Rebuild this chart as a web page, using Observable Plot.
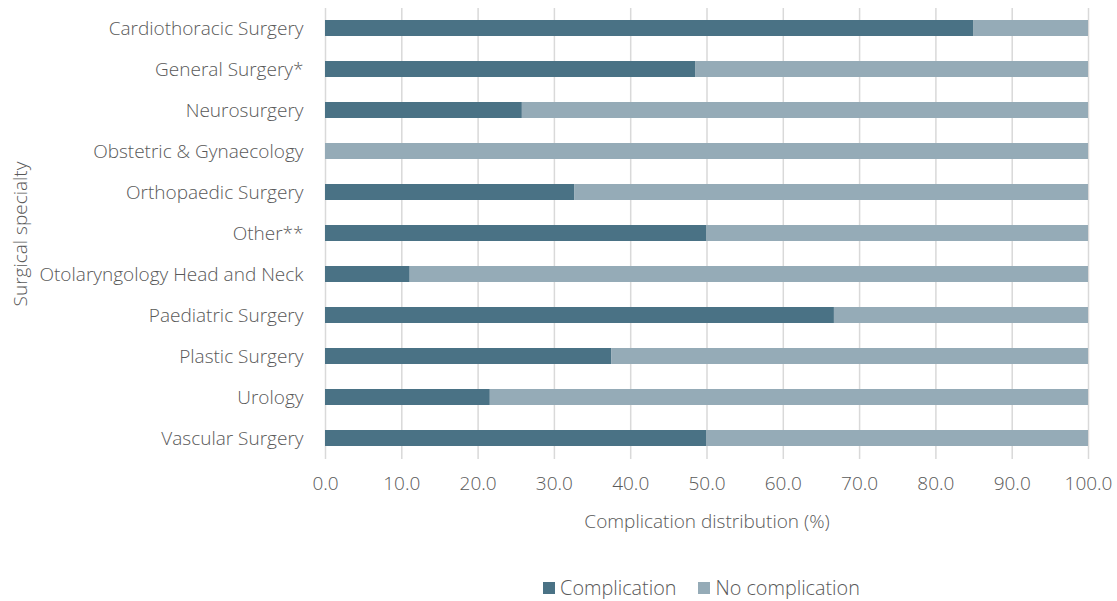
<!DOCTYPE html>
<html>
<head>
<meta charset="utf-8">
<script src="https://cdn.jsdelivr.net/npm/d3@7"></script>
<script src="https://cdn.jsdelivr.net/npm/@observablehq/plot@0.6"></script>
<style>
  html, body { margin: 0; padding: 0; background: #fff; }
  body { font-family: "Open Sans", "Segoe UI", sans-serif; color: #595959; width: 1117px; }
  #legend { display: flex; justify-content: center; align-items: center; gap: 22px;
            box-sizing: border-box; width: 1117px; padding-left: 286px;
            margin-top: 17px; font-size: 19.8px; font-weight: 300; line-height: 22px; }
  #legend .item { display: flex; align-items: center; gap: 5px; }
  #legend .sw { width: 12px; height: 12px; display: inline-block; }
</style>
</head>
<body>
<div id="chart"></div>
<div id="legend"></div>
<script>
// Surgical specialties, top to bottom
const specialties = [
  "Cardiothoracic Surgery",
  "General Surgery*",
  "Neurosurgery",
  "Obstetric & Gynaecology",
  "Orthopaedic Surgery",
  "Other**",
  "Otolaryngology Head and Neck",
  "Paediatric Surgery",
  "Plastic Surgery",
  "Urology",
  "Vascular Surgery"
];

// Share of cases (%) with and without a complication
const complicationPct   = [85.0, 48.5, 25.8, 0.0, 32.7, 50.0, 11.1, 66.7, 37.5, 21.6, 50.0];
const noComplicationPct = [15.0, 51.5, 74.2, 100.0, 67.3, 50.0, 88.9, 33.3, 62.5, 78.4, 50.0];

const seriesNames  = ["Complication", "No complication"];
const seriesColors = ["#4a7285", "#95abb7"];
const xTicks = [0, 10, 20, 30, 40, 50, 60, 70, 80, 90, 100];

const rows = specialties.flatMap((s, i) => [
  { specialty: s, status: seriesNames[0], pct: complicationPct[i] },
  { specialty: s, status: seriesNames[1], pct: noComplicationPct[i] }
]);

const fmt = d3.format(".1f");
const textColor = "#595959";

const chart = Plot.plot({
  width: 1117,
  height: 560,
  marginLeft: 325,
  marginRight: 29,
  marginTop: 8,
  marginBottom: 101,
  style: { fontFamily: '"Open Sans", sans-serif', fontSize: "19px", color: textColor, fontWeight: 300, background: "#fff" },
  x: { domain: [0, 100] },
  y: { domain: specialties, paddingInner: 0.6, paddingOuter: 0.3 },
  color: { domain: seriesNames, range: seriesColors },
  marks: [
    Plot.gridX(xTicks, { stroke: "#d9d9d9", strokeOpacity: 1, strokeWidth: 1.5 }),
    Plot.barX(rows, Plot.stackX({ x: "pct", y: "specialty", fill: "status" })),
    Plot.axisX({
      ticks: xTicks, tickSize: 0, tickPadding: 17, tickFormat: fmt, fill: textColor,
      label: "Complication distribution (%)", labelAnchor: "center",
      labelArrow: "none", labelOffset: 68
    }),
    Plot.axisY({
      tickSize: 0, tickPadding: 22, fill: textColor,
      label: "Surgical specialty", labelAnchor: "center",
      labelArrow: "none", labelOffset: 312
    })
  ]
});
document.getElementById("chart").appendChild(chart);

// Legend below the chart, centred under the plotting area
const legend = d3.select("#legend");
seriesNames.forEach((name, i) => {
  const item = legend.append("div").attr("class", "item");
  item.append("span").attr("class", "sw").style("background", seriesColors[i]);
  item.append("span").text(name);
});
</script>
</body>
</html>
